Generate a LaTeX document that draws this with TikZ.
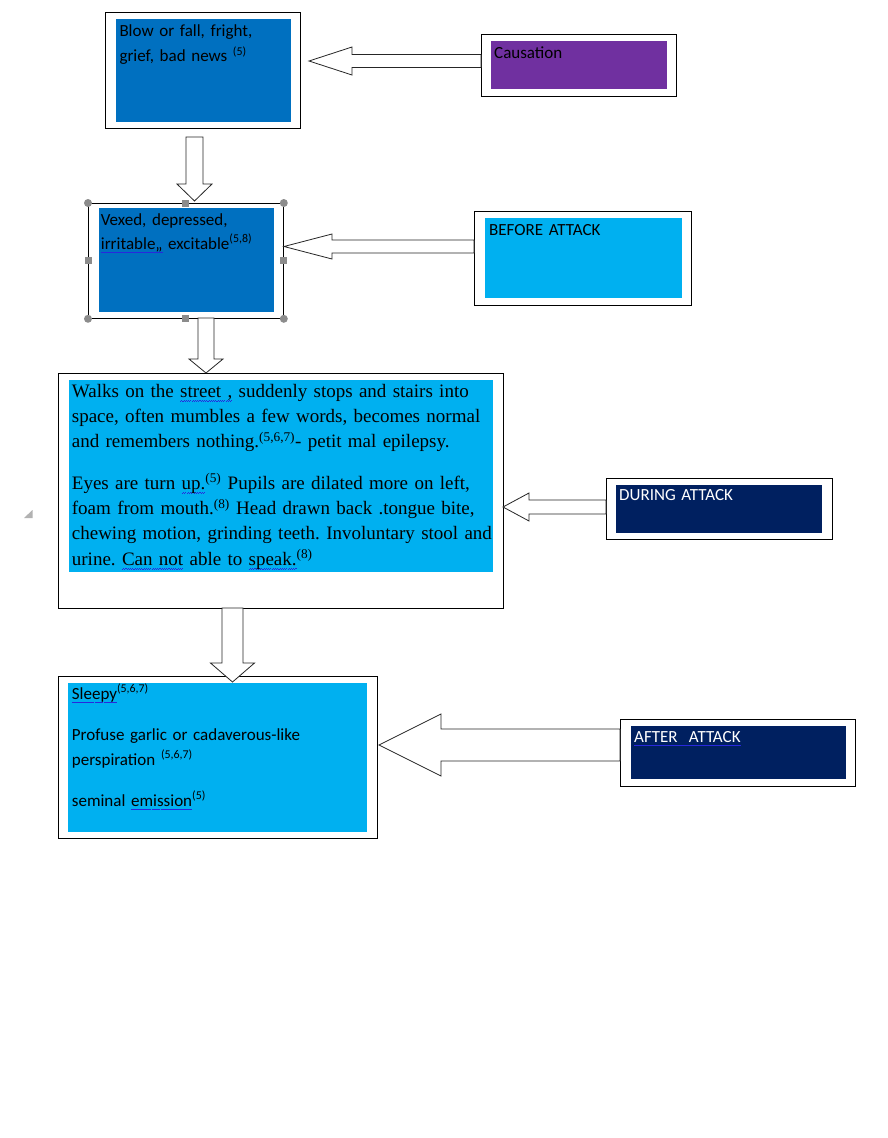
\documentclass[tikz,border=0pt]{standalone}
\usepackage{fontspec}
\setmainfont{Carlito}
\newfontfamily\timesfont{Liberation Serif}
\usepackage{tikz}
\usetikzlibrary{calc}
\definecolor{causeblue}{RGB}{0, 112, 192}
\definecolor{causepurple}{RGB}{112, 48, 160}
\definecolor{stageblue}{RGB}{0, 176, 240}
\definecolor{stagenavy}{RGB}{0, 32, 96}
\definecolor{handlegray}{RGB}{140, 140, 140}
\definecolor{squigblue}{RGB}{40, 40, 220}

\newsavebox\squigbox
\newcommand{\squig}[1]{\leavevmode\sbox\squigbox{#1}%
  \rlap{\textcolor{squigblue}{\hbox to \wd\squigbox{\xleaders\hbox{\rule[-4pt]{1.1pt}{0.6pt}\rule[-3.1pt]{1.1pt}{0.6pt}}\hfil}}}#1}
\newcommand{\blueline}[1]{\leavevmode\sbox\squigbox{#1}%
  \rlap{\textcolor{squigblue}{\rule[-3pt]{\wd\squigbox}{1.2pt}}}#1}
\newcommand{\refs}[1]{\textsuperscript{(#1)}}
% block arrow: tail, tip, shaft half width, head half width, head length
\newcommand{\blockarr}[5]{%
  \draw[barrow] let \p1=(#1), \p2=(#2), \p3=($(#2)!#5!(#1)$) in
    ($(\p1)!#3!90:(\p2)$) -- ($(\p3)!#3!90:(\p2)$) -- ($(\p3)!#4!90:(\p2)$) -- (\p2)
    -- ($(\p3)!#4!-90:(\p2)$) -- ($(\p3)!#3!-90:(\p2)$) -- ($(\p1)!#3!-90:(\p2)$) -- cycle;}

\begin{document}
\frenchspacing
\begin{tikzpicture}[
  x=1pt, y=-1pt,
  frame/.style={draw, line width=1pt, fill=white, inner sep=0pt, anchor=north west},
  panel/.style={inner sep=0pt, anchor=north west},
  label/.style={anchor=base west, inner sep=0pt, align=left, text width=#1,
                font=\frenchspacing\fontsize{17}{25}\selectfont},
  label/.default=200pt,
  barrow/.style={draw=black!85, fill=white, line width=0.8pt, line join=miter},
  handle/.style={fill=handlegray, draw=none, minimum size=7pt, inner sep=0pt}
]
  \fill[white] (0,0) rectangle (888,1138);
  \useasboundingbox (0,0) rectangle (888,1138);

  % causation
  \node[frame, minimum width=195pt, minimum height=116pt] (blowf) at (105,12) {};
  \node[panel, fill=causeblue, minimum width=175pt, minimum height=103pt] (blow) at (116,19) {};
  \node[label] (blowtxt) at (119.3,36.7) {Blow or fall, fright,\\ grief, bad news \refs{5}};

  \node[frame, minimum width=195pt, minimum height=62pt] (causf) at (481,34) {};
  \node[panel, fill=causepurple, minimum width=176pt, minimum height=48pt] (caus) at (491,41) {};
  \node[label] (caustxt) at (494,58.3) {Causation};

  % before attack
  \node[frame, line width=0.8pt, minimum width=195pt, minimum height=115pt] (vexf) at (88,203) {};
  \node[panel, fill=causeblue, minimum width=175pt, minimum height=104pt] (vex) at (99,208) {};
  \node[label, font=\frenchspacing\fontsize{17}{24}\selectfont] (vextxt) at (100.7,225)
    {Vexed, depressed,\\ \squig{irritable,,} excitable\refs{5,8}};

  \node[frame, minimum width=217pt, minimum height=94pt] (beforef) at (474,211) {};
  \node[panel, fill=stageblue, minimum width=197pt, minimum height=80pt] (before) at (485,218) {};
  \node[label] (beforetxt) at (489,235) {BEFORE ATTACK};

  % during attack
  \node[frame, minimum width=445pt, minimum height=235pt] (walkf) at (58,373) {};
  \node[panel, fill=stageblue, minimum width=424pt, minimum height=192pt] (walk) at (69,380) {};
  \node[label=430pt, font=\timesfont\frenchspacing\fontsize{19}{25.3}\selectfont] (walktxt) at (71.7,397.3)
    {Walks on the \squig{street ,} suddenly stops and stairs into\\
     space, often mumbles a few words, becomes normal\\
     and remembers nothing.\refs{5,6,7}- petit mal epilepsy.\\[16pt]
     Eyes are turn \squig{up.}\refs{5} Pupils are dilated more on left,\\
     foam from mouth.\refs{8} Head drawn back .tongue bite,\\
     chewing motion, grinding teeth. Involuntary stool and\\
     urine. \squig{Can not} able to \squig{speak.}\refs{8}};

  \node[frame, minimum width=226pt, minimum height=61pt] (duringf) at (606,478) {};
  \node[panel, fill=stagenavy, minimum width=206pt, minimum height=48pt] (during) at (616,485) {};
  \node[label, text=white] (duringtxt) at (619,500.7) {DURING ATTACK};

  % after attack
  \node[frame, minimum width=319pt, minimum height=162pt] (sleepf) at (58,676) {};
  \node[panel, fill=stageblue, minimum width=299pt, minimum height=149pt] (sleep) at (68,683) {};
  \node[label=290pt] (sleeptxt) at (71.7,699)
    {\squig{Sleepy}\refs{5,6,7}\\[16pt]
     Profuse garlic or cadaverous-like\\
     perspiration \refs{5,6,7}\\[16pt]
     seminal \squig{emission}\refs{5}};

  \node[frame, minimum width=235pt, minimum height=67pt] (afterf) at (620,719) {};
  \node[panel, fill=stagenavy, minimum width=215pt, minimum height=53pt] (after) at (631,726) {};
  \node[label, text=white] (aftertxt) at (634,742.7) {\blueline{AFTER\ \ ATTACK}};

  % arrow ends
  \coordinate (caus-out) at (481,61);
  \coordinate (blow-in) at (309,61);
  \coordinate (blow-out) at (194.5,137);
  \coordinate (vex-top) at (194.5,201);
  \coordinate (before-out) at (474,246.5);
  \coordinate (vex-in) at (284,246.5);
  \coordinate (vex-out) at (206,318);
  \coordinate (walk-top) at (206,373);
  \coordinate (during-out) at (606,507);
  \coordinate (walk-in) at (503,507);
  \coordinate (walk-out) at (232.5,608);
  \coordinate (sleep-top) at (232.5,682);
  \coordinate (after-out) at (620,745);
  \coordinate (sleep-in) at (379,745);

  \blockarr{caus-out}{blow-in}{6.5pt}{14pt}{43pt}
  \blockarr{blow-out}{vex-top}{8.5pt}{17.5pt}{17pt}
  \blockarr{before-out}{vex-in}{6.5pt}{12.5pt}{48pt}
  \blockarr{vex-out}{walk-top}{8pt}{17pt}{14pt}
  \blockarr{during-out}{walk-in}{7pt}{14pt}{26pt}
  \blockarr{walk-out}{sleep-top}{10.5pt}{22pt}{19pt}
  \blockarr{after-out}{sleep-in}{16pt}{31pt}{62pt}

  % selection handles
  \foreach \c in {north west, north east, south west, south east}
    \fill[handlegray] (vexf.\c) circle (4pt);
  \foreach \c in {north, south, east, west}
    \node[handle] at (vexf.\c) {};

  % margin marker
  \fill[black!30] (24,518) -- (32.5,518) -- (32.5,510) -- cycle;
\end{tikzpicture}
\end{document}
